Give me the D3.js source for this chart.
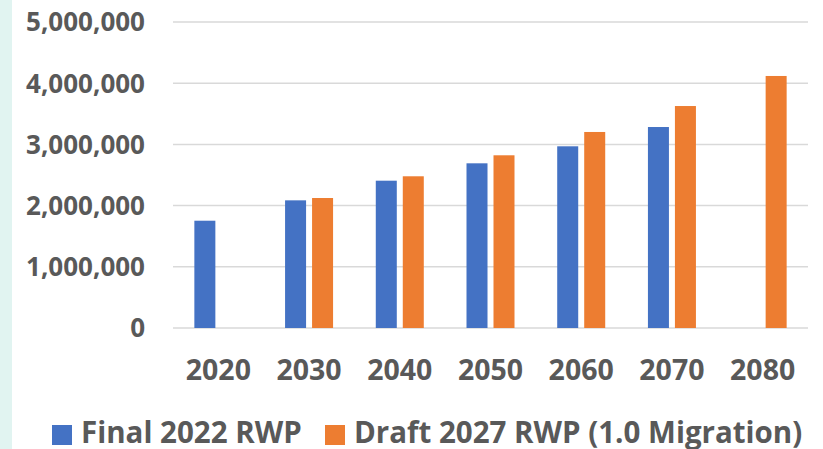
<!DOCTYPE html>
<html lang="en">
<head>
<meta charset="UTF-8">
<title>RWP population projections</title>
<style>
  body, html { margin: 0; padding: 0; background: #fff; }
  svg { display: block; }
  .lbl { font-family: "Open Sans", "Noto Sans", Arial, sans-serif; font-weight: 700; fill: #595959; }
</style>
</head>
<body>
<div id="chart"></div>
<script src="https://d3js.org/d3.v7.min.js"></script>
<script>
  // decades on the x axis
  const years = ["2020", "2030", "2040", "2050", "2060", "2070", "2080"];
  const seriesNames = ["Final 2022 RWP", "Draft 2027 RWP (1.0 Migration)"];
  // values (null = no bar)
  const final2022 = [1753000, 2086000, 2407000, 2691000, 2969000, 3284000, null];
  const draft2027 = [null, 2124000, 2479000, 2822000, 3203000, 3627000, 4118000];
  const yTicks = [0, 1000000, 2000000, 3000000, 4000000, 5000000];
  const colors = ["#4472c4", "#ed7d31"];

  const width = 823, height = 449;
  const plot = { left: 173, right: 808, top: 22, bottom: 328 };

  const svg = d3.select("#chart").append("svg")
      .attr("width", width)
      .attr("height", height);

  svg.append("rect").attr("width", width).attr("height", height).attr("fill", "#fff");
  // light strip on the left edge
  svg.append("rect").attr("x", 0).attr("y", 0).attr("width", 12).attr("height", height).attr("fill", "#e1f4f1");

  const x0 = d3.scaleBand().domain(years).range([plot.left, plot.right]).padding(0);
  const groupW = 48;
  const x1 = d3.scaleBand().domain(seriesNames).range([0, groupW]).paddingInner(0.222);
  const y = d3.scaleLinear().domain([0, 5000000]).range([plot.bottom, plot.top]);

  // gridlines
  svg.append("g").selectAll("line")
    .data(yTicks)
    .join("line")
      .attr("x1", plot.left).attr("x2", plot.right)
      .attr("y1", d => y(d)).attr("y2", d => y(d))
      .attr("stroke", "#d9d9d9")
      .attr("stroke-width", 1.5);

  // y tick labels
  const fmt = d3.format(",");
  svg.append("g").selectAll("text")
    .data(yTicks)
    .join("text")
      .attr("class", "lbl")
      .attr("x", 145)
      .attr("y", d => y(d))
      .attr("dy", "0.36em")
      .attr("text-anchor", "end")
      .style("font-size", "26px")
      .text(d => fmt(d));

  // bars
  const rows = years.map((yr, i) => ({ year: yr, vals: [final2022[i], draft2027[i]] }));
  const groups = svg.append("g").selectAll("g")
    .data(rows)
    .join("g")
      .attr("transform", d => `translate(${x0(d.year) + (x0.bandwidth() - groupW) / 2},0)`);

  groups.selectAll("rect")
    .data(d => d.vals.map((v, j) => ({ name: seriesNames[j], v, j })).filter(e => e.v != null))
    .join("rect")
      .attr("x", d => x1(d.name))
      .attr("width", x1.bandwidth())
      .attr("y", d => y(d.v))
      .attr("height", d => y(0) - y(d.v))
      .attr("fill", d => colors[d.j]);

  // x labels
  svg.append("g").selectAll("text")
    .data(years)
    .join("text")
      .attr("class", "lbl")
      .attr("x", d => x0(d) + x0.bandwidth() / 2)
      .attr("y", 370)
      .attr("dy", "0.36em")
      .attr("text-anchor", "middle")
      .style("font-size", "28.5px")
      .text(d => d);

  // legend
  const legendX = [52, 325];
  const leg = svg.append("g").selectAll("g")
    .data(seriesNames)
    .join("g")
      .attr("transform", (d, i) => `translate(${legendX[i]},425)`);
  leg.append("rect")
    .attr("width", 20).attr("height", 20)
    .attr("fill", (d, i) => colors[i]);
  leg.append("text")
    .attr("class", "lbl")
    .attr("x", 29)
    .attr("y", 18)
    .style("font-size", "29.5px")
    .text(d => d);
</script>
</body>
</html>
